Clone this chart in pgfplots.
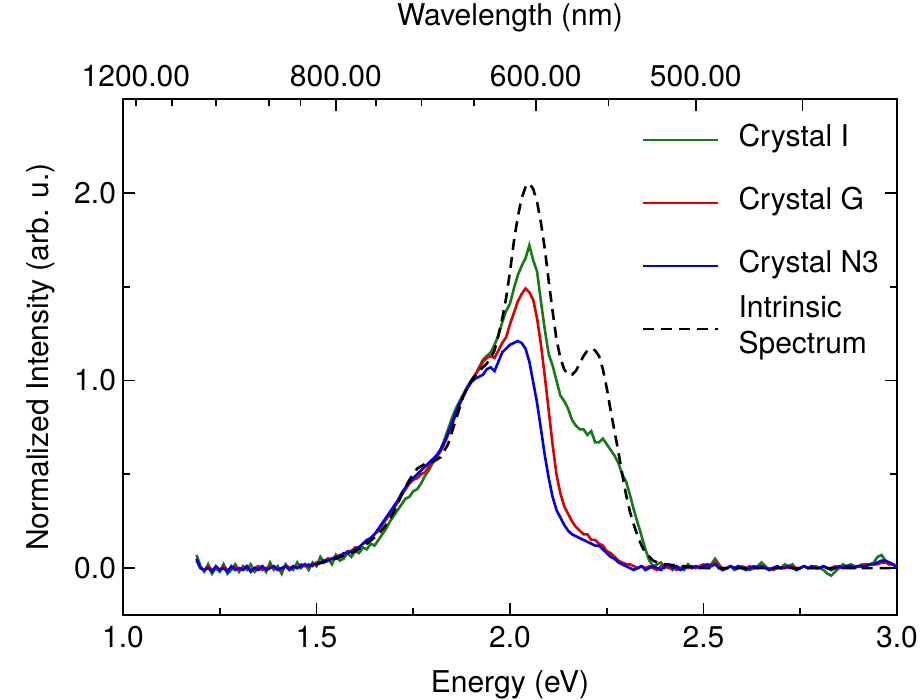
\documentclass[border=0pt]{standalone}
\usepackage{pgfplots}
\pgfplotsset{compat=1.18}
\usepackage{fontspec}
\setmainfont{TeX Gyre Heros}
\definecolor{cgreen}{RGB}{20,125,20}
\definecolor{cred}{RGB}{220,0,0}
\definecolor{cblue}{RGB}{0,0,235}
\begin{document}
\begin{tikzpicture}
\pgfplotsset{
  common/.style={
    width=387pt, height=258pt, scale only axis,
    xmin=1, xmax=3, ymin=-0.25, ymax=2.5,
    font=\fontsize{15}{18}\selectfont,
    /pgf/number format/assume math mode=true,
    tick align=inside,
    major tick length=6pt, minor tick length=3.5pt,
    every tick/.style={black, line width=0.9pt},
    every minor tick/.style={black, line width=0.9pt},
    axis line style={line width=1pt},
  }
}
\begin{axis}[common, name=bot,
  xtick={1,1.5,2,2.5,3}, minor xtick={1.25,1.75,2.25,2.75},
  ytick={0,1,2}, minor ytick={0.5,1.5},
  xtick pos=left, ytick pos=both, yticklabel pos=left,
  xticklabel style={/pgf/number format/.cd, fixed, fixed zerofill, precision=1},
  yticklabel style={/pgf/number format/.cd, fixed, fixed zerofill, precision=1},
  xticklabel shift=2pt, xlabel shift=4.5pt, ylabel shift=2.5pt,
  xlabel={Energy (eV)}, ylabel={Normalized Intensity (arb. u.)},
  legend cell align=left,
  legend style={draw=none, fill=none, at={(0.6705,0.9445)}, anchor=north west,
    inner sep=0pt, outer sep=0pt, row sep=19pt, column sep=9.5pt,
    nodes={inner sep=0pt, text height=9.5pt, text depth=3pt, font=\fontsize{15}{18}\selectfont}},
  legend image code/.code={\draw[#1] (0pt,0pt) -- (37.5pt,0pt);},
  every axis plot/.append style={line width=1.3pt},
]
\addplot[cgreen] table[row sep=\\] {x y\\
1.19 0.07\\ 1.20 0.01\\ 1.21 -0.02\\ 1.22 0.02\\ 1.23 -0.03\\ 1.24 0.00\\ 1.25 -0.02\\ 1.26 0.02\\ 1.27 -0.03\\ 1.28 -0.01\\
1.29 0.02\\ 1.30 -0.02\\ 1.31 0.01\\ 1.32 -0.01\\ 1.33 0.02\\ 1.34 -0.02\\ 1.35 0.00\\ 1.36 0.01\\ 1.37 -0.02\\ 1.38 0.03\\
1.39 -0.01\\ 1.40 0.01\\ 1.41 -0.03\\ 1.42 0.02\\ 1.43 0.00\\ 1.44 -0.01\\ 1.45 0.03\\ 1.46 0.00\\ 1.47 0.02\\ 1.48 -0.01\\
1.49 0.03\\ 1.50 0.01\\ 1.51 0.06\\ 1.52 0.03\\ 1.53 0.05\\ 1.54 0.02\\ 1.55 0.07\\ 1.56 0.04\\ 1.57 0.05\\ 1.58 0.08\\
1.59 0.06\\ 1.60 0.09\\ 1.61 0.08\\ 1.62 0.11\\ 1.63 0.10\\ 1.64 0.13\\ 1.65 0.12\\ 1.66 0.15\\ 1.67 0.18\\ 1.68 0.21\\
1.69 0.25\\ 1.70 0.28\\ 1.71 0.31\\ 1.72 0.34\\ 1.73 0.37\\ 1.74 0.38\\ 1.75 0.41\\ 1.76 0.42\\ 1.77 0.45\\ 1.78 0.49\\
1.79 0.52\\ 1.80 0.56\\ 1.81 0.59\\ 1.82 0.63\\ 1.83 0.68\\ 1.84 0.74\\ 1.85 0.80\\ 1.86 0.85\\ 1.87 0.89\\ 1.88 0.93\\
1.89 0.97\\ 1.90 1.00\\ 1.91 1.03\\ 1.92 1.07\\ 1.93 1.11\\ 1.94 1.13\\ 1.95 1.15\\ 1.96 1.19\\ 1.97 1.24\\ 1.98 1.31\\
1.99 1.37\\ 2.00 1.41\\ 2.01 1.49\\ 2.02 1.56\\ 2.03 1.61\\ 2.04 1.65\\ 2.05 1.72\\ 2.06 1.64\\ 2.07 1.58\\ 2.08 1.42\\
2.09 1.27\\ 2.10 1.14\\ 2.11 1.08\\ 2.12 1.00\\ 2.13 0.92\\ 2.14 0.89\\ 2.15 0.85\\ 2.16 0.79\\ 2.17 0.76\\ 2.18 0.74\\
2.19 0.74\\ 2.20 0.71\\ 2.21 0.73\\ 2.22 0.67\\ 2.23 0.67\\ 2.24 0.69\\ 2.25 0.66\\ 2.26 0.63\\ 2.27 0.60\\ 2.28 0.56\\
2.29 0.50\\ 2.30 0.46\\ 2.31 0.39\\ 2.32 0.31\\ 2.33 0.24\\ 2.34 0.17\\ 2.35 0.10\\ 2.36 0.04\\ 2.37 0.01\\ 2.38 0.02\\
2.39 0.03\\ 2.40 0.00\\ 2.41 0.01\\ 2.42 -0.01\\ 2.43 0.01\\ 2.44 0.00\\ 2.45 -0.01\\ 2.46 0.02\\ 2.47 0.00\\ 2.48 0.01\\
2.49 0.00\\ 2.50 0.01\\ 2.51 0.00\\ 2.52 0.02\\ 2.53 0.05\\ 2.54 0.02\\ 2.55 -0.01\\ 2.56 0.00\\ 2.57 0.01\\ 2.58 -0.01\\
2.59 0.00\\ 2.60 0.01\\ 2.61 0.00\\ 2.62 -0.01\\ 2.63 0.00\\ 2.64 0.01\\ 2.65 0.03\\ 2.66 0.01\\ 2.67 -0.01\\ 2.68 0.00\\
2.69 0.01\\ 2.70 0.00\\ 2.71 0.02\\ 2.72 0.01\\ 2.73 0.02\\ 2.74 -0.01\\ 2.75 0.00\\ 2.76 0.01\\ 2.77 0.00\\ 2.78 0.00\\
2.79 0.01\\ 2.80 0.00\\ 2.81 -0.01\\ 2.82 -0.03\\ 2.83 -0.04\\ 2.84 -0.02\\ 2.85 0.00\\ 2.86 0.02\\ 2.87 0.01\\ 2.88 0.02\\
2.89 0.01\\ 2.90 0.01\\ 2.91 0.02\\ 2.92 0.02\\ 2.93 0.02\\ 2.94 0.03\\ 2.95 0.06\\ 2.96 0.07\\ 2.97 0.04\\ 2.98 0.02\\
2.99 0.02\\ 3.00 0.00\\
};
\addlegendentry{Crystal I}
\addplot[cred] table[row sep=\\] {x y\\
1.19 0.04\\ 1.20 0.00\\ 1.21 -0.01\\ 1.22 0.01\\ 1.23 -0.01\\ 1.24 0.00\\ 1.25 -0.01\\ 1.26 0.01\\ 1.27 -0.01\\ 1.28 0.00\\
1.29 0.01\\ 1.30 -0.01\\ 1.31 0.00\\ 1.32 0.01\\ 1.33 -0.01\\ 1.34 0.00\\ 1.35 0.01\\ 1.36 -0.01\\ 1.37 0.00\\ 1.38 0.01\\
1.39 0.00\\ 1.40 0.00\\ 1.41 -0.01\\ 1.42 0.01\\ 1.43 0.00\\ 1.44 0.01\\ 1.45 0.00\\ 1.46 0.02\\ 1.47 0.01\\ 1.48 0.02\\
1.49 0.01\\ 1.50 0.03\\ 1.51 0.03\\ 1.52 0.04\\ 1.53 0.05\\ 1.54 0.05\\ 1.55 0.06\\ 1.56 0.07\\ 1.57 0.07\\ 1.58 0.09\\
1.59 0.09\\ 1.60 0.11\\ 1.61 0.11\\ 1.62 0.13\\ 1.63 0.14\\ 1.64 0.16\\ 1.65 0.18\\ 1.66 0.20\\ 1.67 0.23\\ 1.68 0.26\\
1.69 0.29\\ 1.70 0.32\\ 1.71 0.35\\ 1.72 0.39\\ 1.73 0.42\\ 1.74 0.45\\ 1.75 0.47\\ 1.76 0.48\\ 1.77 0.50\\ 1.78 0.51\\
1.79 0.54\\ 1.80 0.57\\ 1.81 0.59\\ 1.82 0.62\\ 1.83 0.66\\ 1.84 0.71\\ 1.85 0.76\\ 1.86 0.82\\ 1.87 0.87\\ 1.88 0.92\\
1.89 0.96\\ 1.90 1.00\\ 1.91 1.03\\ 1.92 1.06\\ 1.93 1.10\\ 1.94 1.12\\ 1.95 1.13\\ 1.96 1.12\\ 1.97 1.16\\ 1.98 1.20\\
1.99 1.23\\ 2.00 1.30\\ 2.01 1.36\\ 2.02 1.42\\ 2.03 1.46\\ 2.04 1.49\\ 2.05 1.47\\ 2.06 1.43\\ 2.07 1.33\\ 2.08 1.19\\
2.09 1.02\\ 2.10 0.84\\ 2.11 0.66\\ 2.12 0.50\\ 2.13 0.40\\ 2.14 0.33\\ 2.15 0.29\\ 2.16 0.25\\ 2.17 0.22\\ 2.18 0.20\\
2.19 0.18\\ 2.20 0.18\\ 2.21 0.15\\ 2.22 0.15\\ 2.23 0.13\\ 2.24 0.12\\ 2.25 0.09\\ 2.26 0.08\\ 2.27 0.06\\ 2.28 0.04\\
2.29 0.03\\ 2.30 0.02\\ 2.31 0.02\\ 2.32 0.01\\ 2.33 0.00\\ 2.34 0.01\\ 2.35 0.00\\ 2.36 0.01\\ 2.37 0.00\\ 2.38 -0.01\\
2.39 0.01\\ 2.40 0.02\\ 2.41 0.00\\ 2.42 0.01\\ 2.43 -0.01\\ 2.44 0.00\\ 2.45 0.01\\ 2.46 0.00\\ 2.47 0.01\\ 2.48 0.00\\
2.49 0.01\\ 2.50 0.02\\ 2.51 0.01\\ 2.52 0.02\\ 2.53 0.03\\ 2.54 0.01\\ 2.55 0.00\\ 2.56 0.00\\ 2.57 0.01\\ 2.58 0.00\\
2.59 0.01\\ 2.60 0.00\\ 2.61 0.00\\ 2.62 0.01\\ 2.63 0.00\\ 2.64 0.01\\ 2.65 0.01\\ 2.66 0.00\\ 2.67 0.00\\ 2.68 -0.01\\
2.69 0.00\\ 2.70 0.00\\ 2.71 0.01\\ 2.72 0.00\\ 2.73 0.01\\ 2.74 0.00\\ 2.75 0.00\\ 2.76 0.01\\ 2.77 0.00\\ 2.78 0.01\\
2.79 0.00\\ 2.80 0.00\\ 2.81 0.01\\ 2.82 0.00\\ 2.83 0.00\\ 2.84 0.01\\ 2.85 0.00\\ 2.86 0.01\\ 2.87 0.01\\ 2.88 0.00\\
2.89 0.01\\ 2.90 0.01\\ 2.91 0.01\\ 2.92 0.02\\ 2.93 0.02\\ 2.94 0.02\\ 2.95 0.02\\ 2.96 0.03\\ 2.97 0.03\\ 2.98 0.02\\
2.99 0.02\\ 3.00 0.01\\
};
\addlegendentry{Crystal G}
\addplot[cblue] table[row sep=\\] {x y\\
1.19 0.05\\ 1.20 0.00\\ 1.21 -0.01\\ 1.22 0.00\\ 1.23 -0.02\\ 1.24 0.01\\ 1.25 -0.01\\ 1.26 0.00\\ 1.27 -0.02\\ 1.28 0.01\\
1.29 -0.01\\ 1.30 0.00\\ 1.31 -0.01\\ 1.32 0.01\\ 1.33 -0.02\\ 1.34 0.00\\ 1.35 -0.01\\ 1.36 0.01\\ 1.37 -0.01\\ 1.38 0.00\\
1.39 0.01\\ 1.40 -0.01\\ 1.41 0.00\\ 1.42 0.01\\ 1.43 -0.01\\ 1.44 0.01\\ 1.45 0.00\\ 1.46 0.01\\ 1.47 0.02\\ 1.48 0.01\\
1.49 0.02\\ 1.50 0.02\\ 1.51 0.03\\ 1.52 0.04\\ 1.53 0.04\\ 1.54 0.05\\ 1.55 0.06\\ 1.56 0.06\\ 1.57 0.08\\ 1.58 0.08\\
1.59 0.09\\ 1.60 0.10\\ 1.61 0.11\\ 1.62 0.13\\ 1.63 0.15\\ 1.64 0.16\\ 1.65 0.18\\ 1.66 0.21\\ 1.67 0.24\\ 1.68 0.27\\
1.69 0.30\\ 1.70 0.33\\ 1.71 0.36\\ 1.72 0.40\\ 1.73 0.43\\ 1.74 0.46\\ 1.75 0.48\\ 1.76 0.50\\ 1.77 0.52\\ 1.78 0.54\\
1.79 0.56\\ 1.80 0.58\\ 1.81 0.60\\ 1.82 0.63\\ 1.83 0.67\\ 1.84 0.72\\ 1.85 0.77\\ 1.86 0.83\\ 1.87 0.88\\ 1.88 0.92\\
1.89 0.96\\ 1.90 0.99\\ 1.91 1.01\\ 1.92 1.02\\ 1.93 1.03\\ 1.94 1.06\\ 1.95 1.07\\ 1.96 1.05\\ 1.97 1.10\\ 1.98 1.15\\
1.99 1.17\\ 2.00 1.19\\ 2.01 1.20\\ 2.02 1.21\\ 2.03 1.20\\ 2.04 1.17\\ 2.05 1.10\\ 2.06 0.99\\ 2.07 0.88\\ 2.08 0.74\\
2.09 0.60\\ 2.10 0.48\\ 2.11 0.38\\ 2.12 0.31\\ 2.13 0.27\\ 2.14 0.23\\ 2.15 0.20\\ 2.16 0.18\\ 2.17 0.17\\ 2.18 0.16\\
2.19 0.15\\ 2.20 0.14\\ 2.21 0.13\\ 2.22 0.12\\ 2.23 0.12\\ 2.24 0.10\\ 2.25 0.08\\ 2.26 0.06\\ 2.27 0.05\\ 2.28 0.03\\
2.29 0.02\\ 2.30 0.01\\ 2.31 0.00\\ 2.32 -0.01\\ 2.33 0.00\\ 2.34 0.01\\ 2.35 -0.01\\ 2.36 0.00\\ 2.37 0.01\\ 2.38 0.00\\
2.39 -0.01\\ 2.40 0.01\\ 2.41 0.02\\ 2.42 0.00\\ 2.43 0.01\\ 2.44 -0.01\\ 2.45 0.00\\ 2.46 0.01\\ 2.47 0.00\\ 2.48 0.01\\
2.49 0.00\\ 2.50 0.01\\ 2.51 0.02\\ 2.52 0.01\\ 2.53 0.02\\ 2.54 0.00\\ 2.55 -0.01\\ 2.56 0.00\\ 2.57 0.01\\ 2.58 0.00\\
2.59 0.01\\ 2.60 0.00\\ 2.61 -0.01\\ 2.62 0.00\\ 2.63 0.01\\ 2.64 0.00\\ 2.65 0.01\\ 2.66 0.00\\ 2.67 -0.01\\ 2.68 0.00\\
2.69 0.01\\ 2.70 0.00\\ 2.71 0.00\\ 2.72 0.01\\ 2.73 0.00\\ 2.74 -0.01\\ 2.75 0.00\\ 2.76 0.01\\ 2.77 0.00\\ 2.78 0.01\\
2.79 0.00\\ 2.80 0.00\\ 2.81 0.01\\ 2.82 0.00\\ 2.83 -0.01\\ 2.84 0.00\\ 2.85 0.01\\ 2.86 0.00\\ 2.87 0.01\\ 2.88 0.01\\
2.89 0.00\\ 2.90 0.01\\ 2.91 0.01\\ 2.92 0.01\\ 2.93 0.02\\ 2.94 0.02\\ 2.95 0.03\\ 2.96 0.04\\ 2.97 0.04\\ 2.98 0.03\\
2.99 0.02\\ 3.00 0.00\\
};
\addlegendentry{Crystal N3}
\addplot[black, dash pattern=on 5.5pt off 3.5pt] table[row sep=\\] {x y\\
1.50 0.02\\ 1.55 0.05\\ 1.60 0.09\\ 1.63 0.13\\ 1.66 0.18\\ 1.68 0.23\\ 1.70 0.30\\ 1.72 0.39\\ 1.74 0.47\\ 1.76 0.53\\
1.78 0.555\\ 1.80 0.565\\ 1.82 0.59\\ 1.84 0.66\\ 1.86 0.79\\ 1.88 0.92\\ 1.90 1.00\\ 1.92 1.05\\ 1.94 1.09\\ 1.95 1.12\\
1.96 1.16\\ 1.97 1.24\\ 1.98 1.33\\ 1.99 1.44\\ 2.00 1.58\\ 2.01 1.74\\ 2.02 1.87\\ 2.03 1.97\\ 2.04 2.03\\ 2.05 2.05\\
2.06 2.02\\ 2.07 1.95\\ 2.08 1.84\\ 2.09 1.70\\ 2.10 1.53\\ 2.11 1.37\\ 2.12 1.22\\ 2.13 1.12\\ 2.14 1.06\\ 2.15 1.03\\
2.16 1.03\\ 2.17 1.05\\ 2.18 1.09\\ 2.19 1.13\\ 2.20 1.16\\ 2.21 1.17\\ 2.22 1.16\\ 2.23 1.13\\ 2.24 1.06\\ 2.25 0.96\\
2.26 0.84\\ 2.27 0.73\\ 2.28 0.62\\ 2.29 0.50\\ 2.30 0.39\\ 2.31 0.30\\ 2.32 0.23\\ 2.33 0.17\\ 2.34 0.12\\ 2.35 0.08\\
2.36 0.06\\ 2.37 0.04\\ 2.38 0.03\\ 2.40 0.02\\ 2.45 0.01\\ 2.50 0.00\\ 2.60 0.00\\ 2.70 0.00\\ 2.80 0.00\\ 2.90 0.00\\
3.00 0.00\\
};
\addlegendentry{\smash{\begin{tabular}{@{}l@{}}Intrinsic\\Spectrum\end{tabular}}}
\end{axis}
\begin{axis}[common,
  axis x line*=top, axis y line=none,
  xtick={1.55,2.066667,2.48,2.755556},
  xticklabels={800.00,600.00,500.00,},
  minor xtick={1.127273,1.24,1.377778,1.458824,1.653333,1.771429,1.907692,2.254545},
  extra x ticks={1.033333}, extra x tick labels={1200.00},
  extra x tick style={major tick length=3.5pt},
  xticklabel shift=2.5pt, xlabel shift=4.5pt,
  xlabel={Wavelength (nm)},
]
\addplot[draw=none] coordinates {(1,0) (3,0)};
\end{axis}
\pgfresetboundingbox
\path[use as bounding box] ([xshift=-61.5pt,yshift=-42.5pt]bot.south west) rectangle ([xshift=11.5pt,yshift=49.5pt]bot.north east);
\end{tikzpicture}
\end{document}
